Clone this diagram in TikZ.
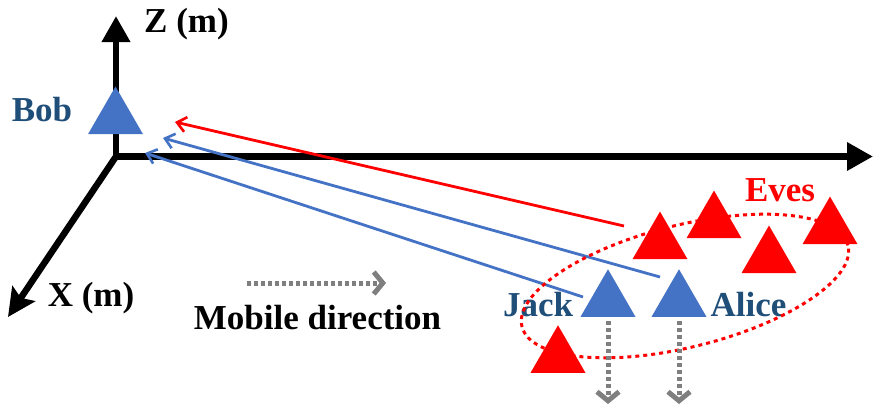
\documentclass[tikz,border=0pt]{standalone}
\usepackage{fontspec}
\setmainfont{Liberation Serif}
\usetikzlibrary{arrows.meta,shapes.geometric}
\definecolor{dblue}{HTML}{1F4E79}
\definecolor{tblue}{HTML}{4472C4}
\definecolor{tred}{HTML}{FF0000}
\definecolor{tgrey}{HTML}{7F7F7F}
\begin{document}
\begin{tikzpicture}[x=1pt,y=-1pt,
  lbl/.style={font=\fontsize{35}{40}\selectfont\bfseries, inner sep=0pt},
  tri/.style={regular polygon, regular polygon sides=3, minimum size=63.5pt, inner sep=0pt, outer sep=0pt, draw=none},
  axis/.style={line width=6.5pt, black},
  sig/.style={line width=2.8pt, -{Straight Barb[length=9pt,width=15pt,line width=2.6pt]}},
  mob/.style={tgrey, line width=5pt, dash pattern=on 4pt off 3pt, -{Straight Barb[length=9pt,width=22pt,line width=5pt]}}
]
\useasboundingbox (0,0) rectangle (880,407);
% axes
\coordinate (O) at (116,156.5);
\coordinate (Zend) at (116,16);
\coordinate (Yend) at (873,156.5);
\coordinate (Xend) at (8,317);
\coordinate (O2) at (112.8,156.5);
\draw[axis,-{Triangle[length=26pt,width=27pt]}] (O) -- (Zend);
\draw[axis,-{Triangle[length=26pt,width=27pt]}] (O2) -- (Yend);
\draw[axis,-{Stealth[length=28pt,width=27pt,inset=5pt]}] (O) -- (Xend);
% signal lines
\coordinate (rs) at (624,226); \coordinate (rt) at (175,122);
\coordinate (as) at (660,277); \coordinate (aT) at (163,138);
\coordinate (js) at (583,297); \coordinate (jt) at (145,153);
\draw[sig, tred] (rs) -- (rt);
\draw[sig, tblue] (as) -- (aT);
\draw[sig, tblue] (js) -- (jt);
% triangles
\node[tri, fill=tblue] (bob) at (115.5,118.3) {};
\node[tri, fill=tred] (e1) at (660,243.3) {};
\node[tri, fill=tred] (e2) at (714,222.3) {};
\node[tri, fill=tred] (e3) at (769,257.3) {};
\node[tri, fill=tred] (e4) at (830,228.3) {};
\node[tri, fill=tred] (e5) at (558,357) {};
\node[tri, fill=tblue] (jack) at (608,301) {};
\node[tri, fill=tblue] (alice) at (679,301) {};
% labels
\node[lbl] (zl) at (186.5,24) {Z (m)};
\node[lbl] (xl) at (91,298) {X (m)};
\node[lbl, dblue] (bobl) at (42,109.5) {Bob};
\node[lbl, tred] (evesl) at (780,190) {Eves};
\node[lbl, dblue] (jackl) at (538,305) {Jack};
\node[lbl, dblue] (alicel) at (748.5,305) {Alice};
\node[lbl] (mobl) at (317.5,318) {Mobile direction};
% ellipse
\draw[tred, line width=3pt, dash pattern=on 4pt off 4pt, rotate around={14:(685,286)}] (685,286) ellipse [x radius=168pt, y radius=61pt];
% mobile arrows
\coordinate (m1) at (247,283); \coordinate (m2) at (386,283);
\draw[mob] (m1) -- (m2);
\coordinate (j1) at (608,321); \coordinate (j2) at (608,404);
\coordinate (a1) at (679,321); \coordinate (a2) at (679,404);
\draw[mob] (j1) -- (j2);
\draw[mob] (a1) -- (a2);
\end{tikzpicture}
\end{document}
